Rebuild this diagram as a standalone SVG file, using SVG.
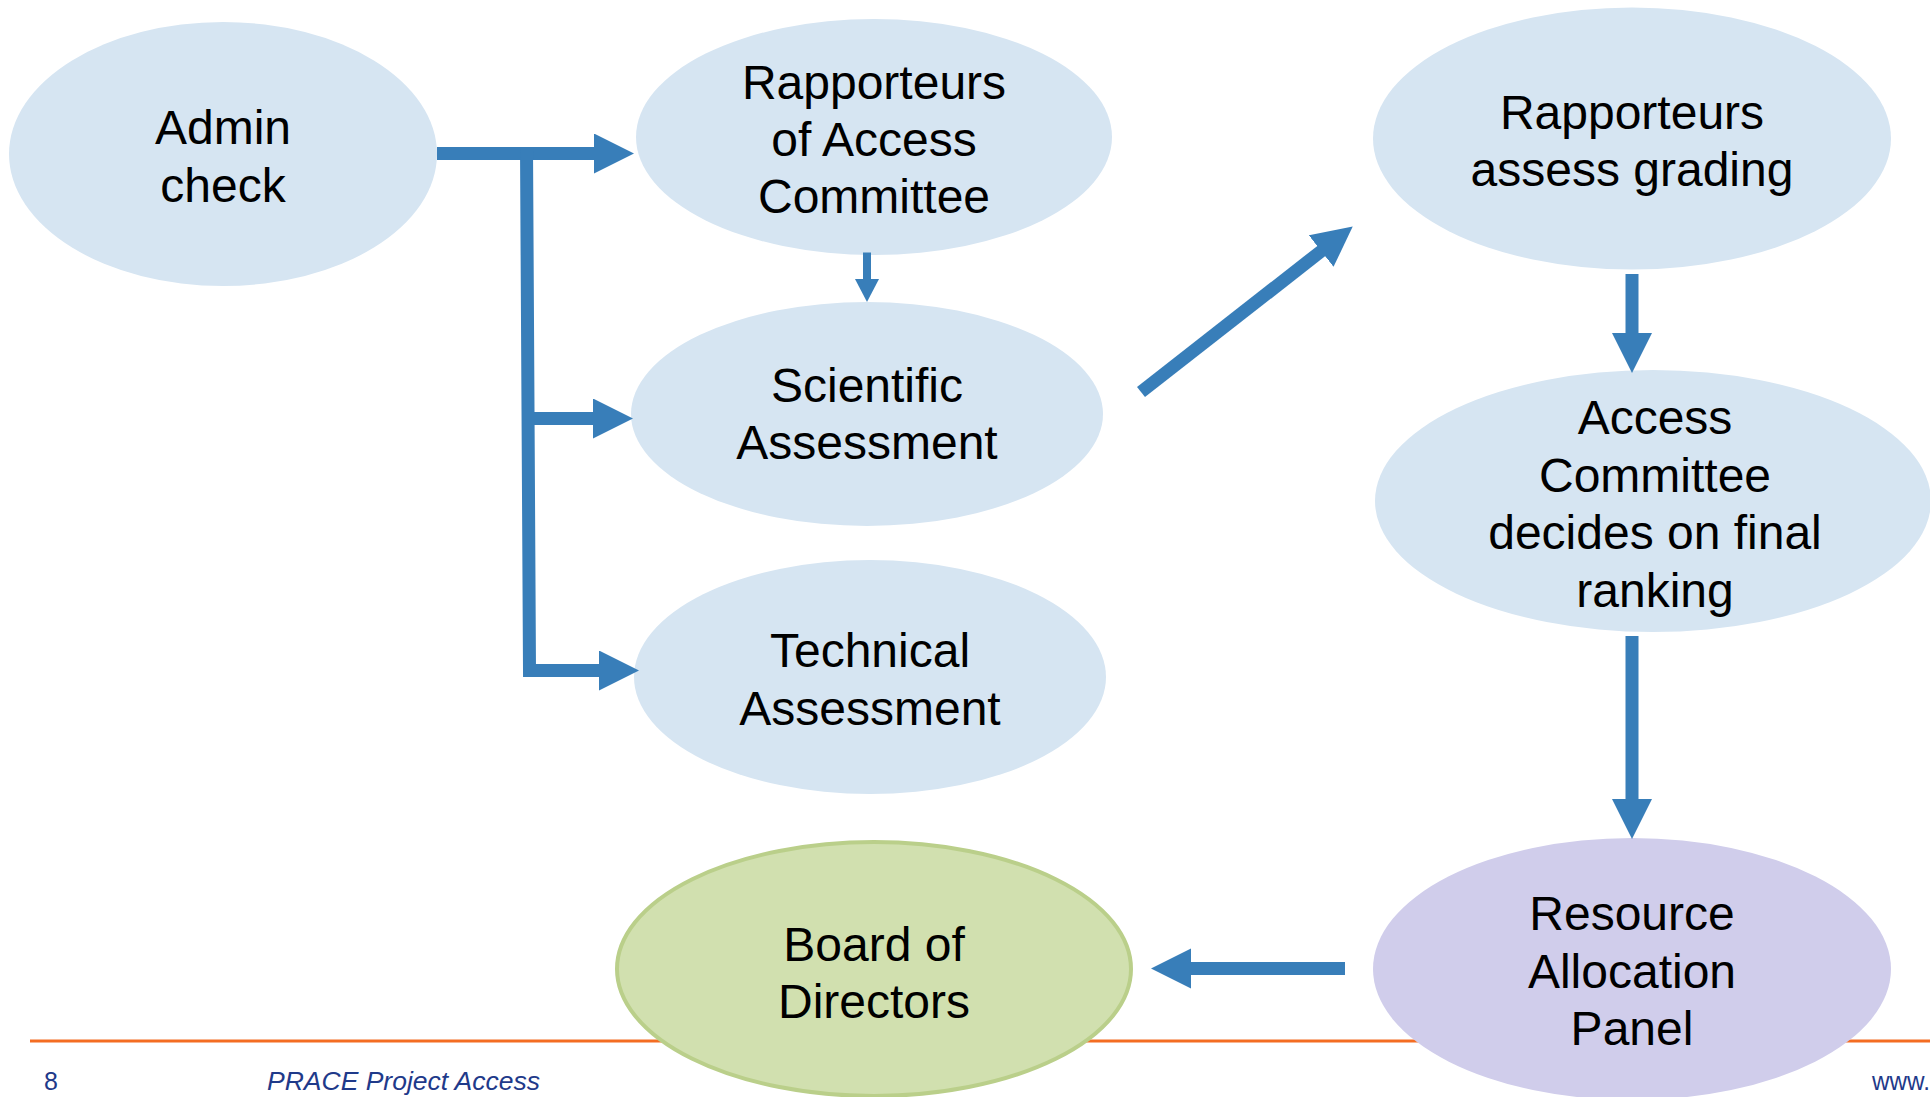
<svg xmlns="http://www.w3.org/2000/svg" width="1930" height="1097" viewBox="0 0 1930 1097">
<style>
  .node-blue { fill: #D6E5F2; }
  .node-purple { fill: #D0CDEB; }
  .node-green { fill: #D1E0AF; stroke: #BACF8A; stroke-width: 4; }
  .lbl { font-family: "Liberation Sans", Arial, sans-serif; font-size: 48px; fill: #000; text-anchor: middle; }
  .conn { fill: none; stroke: #387EB9; stroke-width: 13; stroke-linejoin: miter; }
  .foot { font-family: "Liberation Sans", Arial, sans-serif; font-size: 25px; fill: #1F3A8A; }
</style>
<defs>
  <marker id="head" markerUnits="userSpaceOnUse" markerWidth="42" markerHeight="42" refX="1" refY="20" orient="auto" viewBox="0 0 42 42">
    <path d="M0,0 L40,20 L0,40 z" fill="#387EB9"/>
  </marker>
  <marker id="head-s" markerUnits="userSpaceOnUse" markerWidth="26" markerHeight="26" refX="1" refY="12" orient="auto" viewBox="0 0 26 26">
    <path d="M0,0 L23,12 L0,24 z" fill="#387EB9"/>
  </marker>
</defs>
<rect width="1930" height="1097" fill="#FFFFFF"/>

<g id="footer">
  <line x1="30" y1="1041" x2="1930" y2="1041" stroke="#F46D22" stroke-width="3"/>
  <text class="foot" x="44" y="1090">8</text>
  <text class="foot" x="267" y="1090" font-style="italic" textLength="273" lengthAdjust="spacingAndGlyphs">PRACE Project Access</text>
  <text class="foot" x="1872" y="1090" textLength="58" lengthAdjust="spacingAndGlyphs">www.</text>
</g>

<g id="node-admin">
  <ellipse class="node-blue" cx="223" cy="154" rx="214" ry="132"/>
  <text class="lbl" x="223" y="144">Admin</text>
  <text class="lbl" x="223" y="202">check</text>
</g>
<g id="node-rapporteurs-ac">
  <ellipse class="node-blue" cx="874" cy="137" rx="238" ry="118"/>
  <text class="lbl" x="874" y="99">Rapporteurs</text>
  <text class="lbl" x="874" y="156">of Access</text>
  <text class="lbl" x="874" y="213">Committee</text>
</g>
<g id="node-scientific">
  <ellipse class="node-blue" cx="867" cy="414" rx="236" ry="112"/>
  <text class="lbl" x="867" y="402">Scientific</text>
  <text class="lbl" x="867" y="459">Assessment</text>
</g>
<g id="node-technical">
  <ellipse class="node-blue" cx="870" cy="677" rx="236" ry="117"/>
  <text class="lbl" x="870" y="667">Technical</text>
  <text class="lbl" x="870" y="725">Assessment</text>
</g>
<g id="node-rapporteurs-grading">
  <ellipse class="node-blue" cx="1632" cy="138.5" rx="259" ry="131"/>
  <text class="lbl" x="1632" y="129">Rapporteurs</text>
  <text class="lbl" x="1632" y="186">assess grading</text>
</g>
<g id="node-access-committee">
  <ellipse class="node-blue" cx="1653" cy="501" rx="278" ry="131"/>
  <text class="lbl" x="1655" y="434">Access</text>
  <text class="lbl" x="1655" y="492">Committee</text>
  <text class="lbl" x="1655" y="549">decides on final</text>
  <text class="lbl" x="1655" y="607">ranking</text>
</g>
<g id="node-rap">
  <ellipse class="node-purple" cx="1632" cy="969" rx="259" ry="131"/>
  <text class="lbl" x="1632" y="930">Resource</text>
  <text class="lbl" x="1632" y="988">Allocation</text>
  <text class="lbl" x="1632" y="1045">Panel</text>
</g>
<g id="node-board">
  <ellipse class="node-green" cx="874" cy="969" rx="257" ry="127"/>
  <text class="lbl" x="874" y="961">Board of</text>
  <text class="lbl" x="874" y="1018">Directors</text>
</g>

<g id="connectors">
  <path class="conn" d="M437,153.5 H595" marker-end="url(#head)"/>
  <path class="conn" d="M526.5,147 L529.5,670.5 H600" marker-end="url(#head)"/>
  <path class="conn" d="M529,418.5 H594" marker-end="url(#head)"/>
  <path class="conn" d="M867,252.5 V280" style="stroke-width:8" marker-end="url(#head-s)"/>
  <path class="conn" d="M1141,392 L1322,250.5" marker-end="url(#head)"/>
  <path class="conn" d="M1632,274 V334" marker-end="url(#head)"/>
  <path class="conn" d="M1632,636 V800" marker-end="url(#head)"/>
  <path class="conn" d="M1345,968.5 H1190" marker-end="url(#head)"/>
</g>
</svg>
